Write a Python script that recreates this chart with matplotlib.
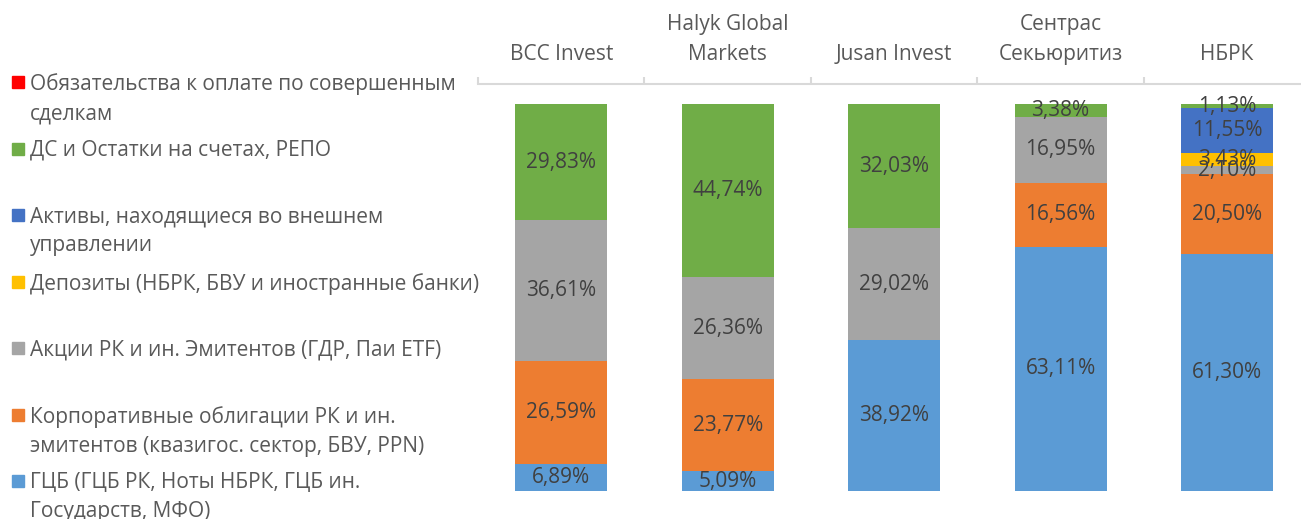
import matplotlib
matplotlib.use("Agg")
import matplotlib.pyplot as plt
from matplotlib.patches import Rectangle
import numpy as np

plt.rcParams['font.family'] = ['Open Sans', 'DejaVu Sans']

categories = ["BCC Invest", "Halyk Global\nMarkets", "Jusan Invest", "Сентрас\nСекьюритиз", "НБРК"]

# stacking order: bottom to top
series_names = [
    "ГЦБ (ГЦБ РК, Ноты НБРК, ГЦБ ин.\nГосударств, МФО)",
    "Корпоративные облигации РК и ин.\nэмитентов (квазигос. сектор, БВУ, PPN)",
    "Акции РК и ин. Эмитентов (ГДР, Паи ETF)",
    "Депозиты (НБРК, БВУ и иностранные банки)",
    "Активы, находящиеся во внешнем\nуправлении",
    "ДС и Остатки на счетах, РЕПО",
    "Обязательства к оплате по совершенным\nсделкам",
]
gcb = [6.89, 5.09, 38.92, 63.11, 61.30]
corp = [26.59, 23.77, 0.0, 16.56, 20.50]
shares = [36.61, 26.36, 29.02, 16.95, 2.10]
deposits = [0.0, 0.0, 0.0, 0.0, 3.43]
external = [0.0, 0.0, 0.0, 0.0, 11.55]
cash = [29.83, 44.74, 32.03, 3.38, 1.13]
obligations = [0.0, 0.0, 0.0, 0.0, 0.0]

series_values = [gcb, corp, shares, deposits, external, cash, obligations]
colors = ["#5B9BD5", "#ED7D31", "#A5A5A5", "#FFC000", "#4472C4", "#70AD47", "#FF0000"]

W, H = 1301, 519
fig = plt.figure(figsize=(W / 100, H / 100), dpi=100)
ax_left, ax_right, ax_top, ax_bottom = 478, 1301, 84, 491
ax = fig.add_axes([ax_left / W, (H - ax_bottom) / H, (ax_right - ax_left) / W, (ax_bottom - ax_top) / H])

x = np.arange(len(categories))
bottom = np.zeros(len(categories))
for vals, col in zip(series_values, colors):
    v = np.array(vals)
    ax.bar(x, v, 0.553, bottom=bottom, color=col, edgecolor='none')
    for xi, b, vi in zip(x, bottom, v):
        if vi > 0:
            ax.text(xi, b + vi / 2, f"{vi:.2f}%".replace('.', ','), ha='center', va='center',
                    fontsize=15, color='#404040')
    bottom += v

for s in ['left', 'right', 'bottom']:
    ax.spines[s].set_visible(False)
ax.spines['top'].set_color('#D9D9D9')
ax.spines['top'].set_linewidth(1.5)
ax.set_yticks([])
ax.xaxis.tick_top()
ax.set_xticks(x)
ax.set_xticklabels(categories, fontsize=15, color='#595959', linespacing=1.55)
ax.tick_params(axis='x', which='major', length=0, pad=14)
ax.set_xticks(np.arange(len(categories)) - 0.5, minor=True)
ax.tick_params(axis='x', which='minor', top=True, length=5, color='#D9D9D9', width=1.5, direction='out')
ax.set_xlim(-0.5, (ax_right - 561) / 166.5)
ax.set_ylim(0, 105.17)

# legend drawn manually (top to bottom reversed stacking order)
legend_order = list(range(len(series_names)))[::-1]
first_y = 82
step = 66.5
for i, si in enumerate(legend_order):
    yc = first_y + i * step
    fig.patches.append(Rectangle((12 / W, (H - yc - 6) / H), 12 / W, 12 / H,
                                 transform=fig.transFigure, color=colors[si]))
    fig.text(30 / W, (H - yc + 8.5) / H, series_names[si], ha='left', va='top',
             fontsize=15, color='#595959', linespacing=1.5)

fig.savefig("out.png", dpi=100)
